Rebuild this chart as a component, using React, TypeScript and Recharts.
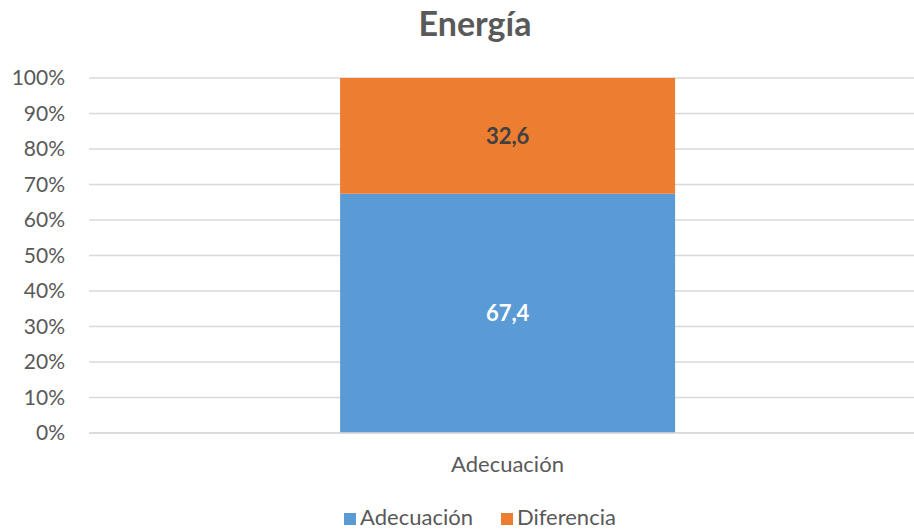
import React from "react";
import { BarChart, Bar, XAxis, YAxis, CartesianGrid, LabelList } from "recharts";

const categories = ["Adecuación"];
const adecuacion = [67.4];
const diferencia = [32.6];
const yTicks = [0, 10, 20, 30, 40, 50, 60, 70, 80, 90, 100];
const seriesNames = ["Adecuación", "Diferencia"];
const colors = ["#5B9BD5", "#ED7D31"];

const data = categories.map((c, i) => ({ name: c, a: adecuacion[i], d: diferencia[i] }));

const FONT = "Lato, 'Open Sans', sans-serif";
const fmt = (v: any) => String(v).replace(".", ",");

export default function App() {
  return (
    <div style={{ position: "absolute", left: 0, top: 0, width: 914, height: 532, overflow: "hidden", background: "#fff" }}>
      <div style={{ position: "absolute", left: 0, top: 2, width: 950, textAlign: "center", fontFamily: FONT, fontWeight: 700, fontSize: 34, color: "#595959" }}>
        Energía
      </div>
      <BarChart
        width={926}
        height={532}
        data={data}
        margin={{ top: 78, right: 0, left: 0, bottom: 59 }}
        barCategoryGap="30%"
      >
        <CartesianGrid vertical={false} stroke="#D9D9D9" strokeWidth={1.3} />
        <XAxis
          dataKey="name"
          height={40}
          tickLine={false}
          axisLine={{ stroke: "#D9D9D9", strokeWidth: 1.3 }}
          tick={{ fill: "#595959", fontSize: 22, fontFamily: FONT }}
          tickMargin={17}
        />
        <YAxis
          width={89}
          domain={[0, 100]}
          ticks={yTicks}
          tickFormatter={(v: number) => `${v}%`}
          tickLine={false}
          axisLine={false}
          tick={{ fill: "#595959", fontSize: 21, fontFamily: FONT }}
          tickMargin={18}
          interval={0}
        />
        <Bar dataKey="a" name="Adecuación" stackId="s" fill={colors[0]} isAnimationActive={false}>
          <LabelList dataKey="a" position="center" formatter={fmt} fill="#FFFFFF" fontSize={22} fontWeight={700} fontFamily={FONT} />
        </Bar>
        <Bar dataKey="d" name="Diferencia" stackId="s" fill={colors[1]} isAnimationActive={false}>
          <LabelList dataKey="d" position="center" formatter={fmt} fill="#404040" fontSize={22} fontWeight={700} fontFamily={FONT} />
        </Bar>
      </BarChart>
      <div style={{ position: "absolute", left: 0, top: 503, width: 960, display: "flex", justifyContent: "center", gap: 28, fontFamily: FONT, fontSize: 22, color: "#595959", lineHeight: "28px" }}>
        {seriesNames.map((n, i) => (
          <div key={n} style={{ display: "flex", alignItems: "center" }}>
            <span style={{ width: 12, height: 12, background: colors[i], display: "inline-block", marginRight: 4, marginTop: 3 }} />
            <span>{n}</span>
          </div>
        ))}
      </div>
    </div>
  );
}
